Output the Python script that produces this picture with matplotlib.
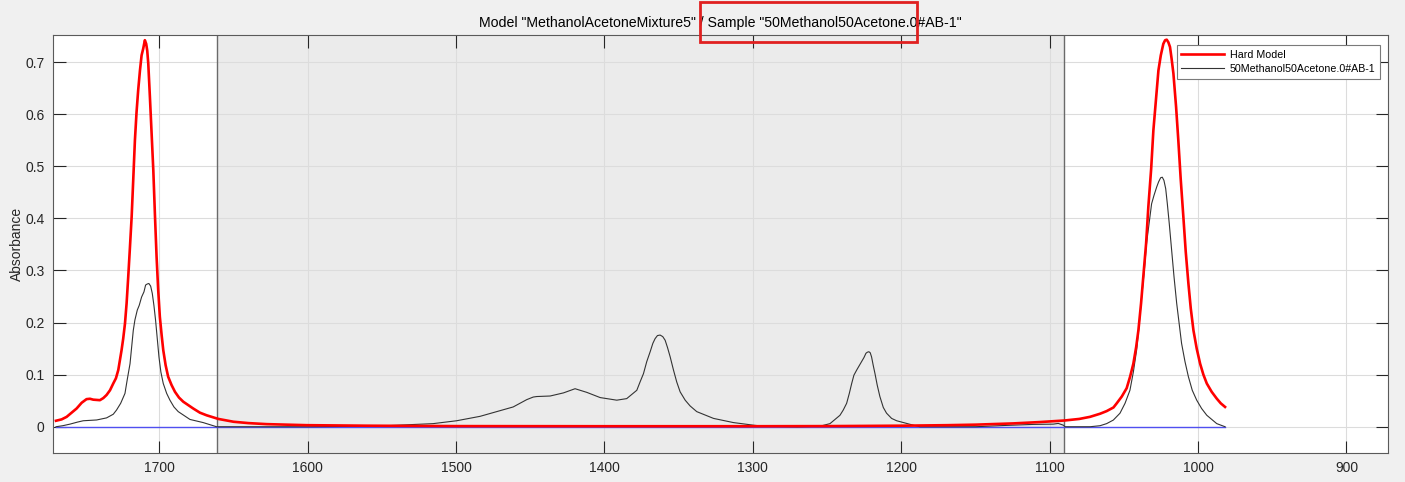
import matplotlib.pyplot as plt
from matplotlib.patches import Rectangle

plt.rcParams['font.family'] = ['Liberation Sans', 'DejaVu Sans']

# hard model (red)
model_x = [1769.6, 1765.8, 1762.4, 1759.1, 1755.7, 1752.3, 1749.0, 1746.7, 1744.5, 1740.0,
           1737.7, 1735.5, 1733.2, 1731.0, 1729.2, 1727.6, 1725.4, 1724.3, 1723.1, 1722.0,
           1720.9, 1719.8, 1718.6, 1717.5, 1716.4, 1715.3, 1714.2, 1713.0, 1711.9, 1710.8,
           1709.7, 1708.8, 1708.1, 1707.4, 1706.3, 1705.2, 1704.0, 1702.9, 1701.8, 1700.7,
           1699.6, 1698.4, 1697.3, 1695.7, 1694.0, 1691.7, 1689.4, 1686.7, 1683.8, 1677.1,
           1672.6, 1668.1, 1660.2, 1650.0, 1640.0, 1627.6, 1600.7, 1560.0, 1500.0, 1400.0,
           1300.0, 1250.0, 1200.0, 1169.0, 1150.0, 1124.5, 1106.5, 1090.0, 1080.0, 1072.8,
           1066.0, 1061.6, 1057.0, 1054.8, 1051.4, 1048.1, 1045.8, 1043.6, 1041.7, 1040.2,
           1038.4, 1036.9, 1035.0, 1033.5, 1031.6, 1030.1, 1028.3, 1026.7, 1025.1, 1023.4,
           1022.2, 1021.1, 1020.0, 1018.9, 1017.8, 1016.6, 1014.8, 1013.3, 1011.7, 1009.9,
           1008.3, 1006.5, 1004.9, 1003.1, 1000.9, 998.6, 996.4, 994.1, 990.8, 987.4,
           984.7, 981.8]
model_y = [0.0115, 0.0141, 0.019, 0.0269, 0.035, 0.046, 0.053, 0.0537, 0.052, 0.051,
           0.055, 0.061, 0.070, 0.083, 0.093, 0.109, 0.147, 0.169, 0.198, 0.237,
           0.288, 0.342, 0.403, 0.476, 0.550, 0.604, 0.646, 0.684, 0.713, 0.726,
           0.742, 0.735, 0.722, 0.697, 0.633, 0.566, 0.492, 0.406, 0.326, 0.262,
           0.211, 0.176, 0.147, 0.118, 0.096, 0.080, 0.067, 0.056, 0.048, 0.035,
           0.027, 0.022, 0.015, 0.0096, 0.007, 0.005, 0.003, 0.002, 0.0012, 0.001,
           0.001, 0.0012, 0.002, 0.003, 0.004, 0.0064, 0.009, 0.012, 0.015, 0.019,
           0.025, 0.030, 0.037, 0.045, 0.058, 0.074, 0.096, 0.121, 0.153, 0.185,
           0.237, 0.288, 0.352, 0.422, 0.495, 0.569, 0.630, 0.684, 0.713, 0.735,
           0.742, 0.743, 0.738, 0.729, 0.706, 0.678, 0.614, 0.550, 0.476, 0.403,
           0.336, 0.275, 0.227, 0.185, 0.150, 0.121, 0.100, 0.083, 0.067, 0.054,
           0.045, 0.038]

# measured sample (black)
sample_x = [1769.6, 1765.0, 1760.2, 1755.0, 1751.2, 1742.2, 1735.5, 1731.0, 1728.8, 1726.0,
            1723.1, 1721.6, 1719.7, 1718.6, 1717.5, 1716.4, 1714.8, 1713.5, 1711.9, 1710.3,
            1709.2, 1708.1, 1707.0, 1705.8, 1704.7, 1703.6, 1702.5, 1701.3, 1700.2, 1698.9,
            1697.3, 1695.0, 1692.8, 1690.1, 1687.2, 1679.3, 1670.4, 1661.4, 1600.0, 1560.0,
            1546.8, 1515.4, 1499.6, 1483.8, 1472.6, 1461.5, 1452.4, 1448.0, 1445.6, 1436.6,
            1427.6, 1419.8, 1411.9, 1402.9, 1391.7, 1385.0, 1378.2, 1376.0, 1373.7, 1371.5,
            1369.2, 1367.4, 1365.9, 1364.3, 1362.5, 1360.7, 1359.1, 1357.5, 1355.7, 1353.5,
            1351.3, 1349.0, 1345.6, 1342.3, 1337.8, 1326.5, 1313.1, 1299.6, 1292.9, 1270.0,
            1254.8, 1248.0, 1241.3, 1239.1, 1236.8, 1235.0, 1233.4, 1231.9, 1230.0, 1226.7,
            1225.1, 1223.8, 1222.9, 1221.8, 1220.9, 1220.0, 1218.9, 1217.7, 1216.2, 1214.4,
            1212.1, 1209.9, 1206.5, 1203.1, 1191.9, 1187.4, 1150.0, 1129.0, 1111.0, 1097.6,
            1094.2, 1090.8, 1089.6, 1072.8, 1066.0, 1061.6, 1057.1, 1052.6, 1049.2, 1045.9,
            1043.6, 1041.4, 1039.6, 1038.0, 1036.2, 1034.7, 1032.9, 1031.3, 1029.7, 1027.9,
            1026.6, 1025.2, 1024.1, 1023.0, 1021.8, 1020.7, 1019.4, 1017.8, 1016.2, 1014.4,
            1012.6, 1011.1, 1008.8, 1006.5, 1003.9, 1000.9, 997.6, 994.1, 990.8, 987.4,
            981.8]
sample_y = [0.0, 0.002, 0.005, 0.009, 0.0115, 0.013, 0.017, 0.024, 0.032, 0.045,
            0.064, 0.090, 0.121, 0.153, 0.185, 0.205, 0.224, 0.233, 0.249, 0.259,
            0.272, 0.274, 0.275, 0.270, 0.256, 0.233, 0.205, 0.169, 0.134, 0.105,
            0.083, 0.064, 0.051, 0.038, 0.029, 0.014, 0.008, 0.0, 0.0, 0.001,
            0.002, 0.006, 0.0115, 0.020, 0.029, 0.038, 0.052, 0.057, 0.058, 0.059,
            0.065, 0.073, 0.066, 0.056, 0.051, 0.054, 0.070, 0.086, 0.102, 0.125,
            0.144, 0.160, 0.169, 0.175, 0.176, 0.173, 0.166, 0.152, 0.134, 0.109,
            0.086, 0.067, 0.051, 0.040, 0.029, 0.016, 0.008, 0.003, 0.001, 0.0,
            0.001, 0.006, 0.022, 0.032, 0.045, 0.064, 0.083, 0.099, 0.109, 0.125,
            0.133, 0.141, 0.143, 0.144, 0.142, 0.134, 0.118, 0.102, 0.080, 0.058,
            0.037, 0.026, 0.016, 0.0115, 0.003, 0.0, 0.0, 0.0026, 0.0045, 0.005,
            0.0064, 0.003, 0.0, 0.0, 0.002, 0.006, 0.0128, 0.026, 0.045, 0.070,
            0.105, 0.147, 0.198, 0.249, 0.300, 0.352, 0.393, 0.428, 0.444, 0.460,
            0.470, 0.478, 0.479, 0.473, 0.457, 0.428, 0.390, 0.339, 0.288, 0.237,
            0.195, 0.160, 0.125, 0.096, 0.070, 0.051, 0.035, 0.022, 0.014, 0.006,
            0.0]

baseline_x = [1769.6, 981.8]
baseline_y = [0.0, 0.0]

# excluded range (shaded)
region = [1661, 1090]

xticks = [1700, 1600, 1500, 1400, 1300, 1200, 1100, 1000, 900]
yticks = [0, 0.1, 0.2, 0.3, 0.4, 0.5, 0.6, 0.7]
ytick_labels = ['0', '0.1', '0.2', '0.3', '0.4', '0.5', '0.6', '0.7']

fig = plt.figure(figsize=(14.05, 4.82), dpi=100, facecolor='#f0f0f0')
ax = fig.add_axes([53/1405, 1 - 453/482, (1388 - 53)/1405, (453 - 35)/482])

ax.axvspan(region[1], region[0], color='#ebebeb', lw=0, zorder=0.5)
for xv in region:
    ax.axvline(xv, color='#6a6a6a', lw=1, zorder=2)

ax.plot(baseline_x, baseline_y, color='#5050f0', lw=1, zorder=3)
ax.plot(sample_x, sample_y, color='#333333', lw=0.8, zorder=4,
        label='50Methanol50Acetone.0#AB-1')
ax.plot(model_x, model_y, color='red', lw=1.9, zorder=5, label='Hard Model')

ax.set_xlim(1771.6, 872)
ax.set_ylim(-0.0504, 0.752)
ax.set_xticks(xticks)
ax.set_yticks(yticks)
ax.set_yticklabels(ytick_labels)
ax.grid(True, color='#dcdcdc', lw=0.8)
ax.tick_params(direction='in', length=9, width=0.8, top=True, right=True,
               colors='#262626', labelsize=10, pad=6)
for s in ax.spines.values():
    s.set_color('#5a5a5a')
    s.set_linewidth(0.8)

ax.set_ylabel('Absorbance', fontsize=10, color='#262626', labelpad=1)
ax.set_title('Model "MethanolAcetoneMixture5" / Sample "50Methanol50Acetone.0#AB-1"',
             fontsize=10.2, pad=6)

handles, labels = ax.get_legend_handles_labels()
leg = ax.legend(handles[::-1], labels[::-1], loc='upper right',
                bbox_to_anchor=(0.994, 0.976), fontsize=7.7, fancybox=False,
                framealpha=1, edgecolor='#7a7a7a', handlelength=4.0,
                handletextpad=0.5, borderpad=0.45, labelspacing=0.4,
                borderaxespad=0)
leg.get_frame().set_linewidth(0.8)

# red highlight box drawn on top of the title
fig.add_artist(Rectangle((700/1405, 1 - 42/482), 217/1405, 40/482,
                         transform=fig.transFigure, fill=False,
                         edgecolor='#e02020', lw=2))

fig.savefig('out.png', dpi=100, facecolor=fig.get_facecolor())
